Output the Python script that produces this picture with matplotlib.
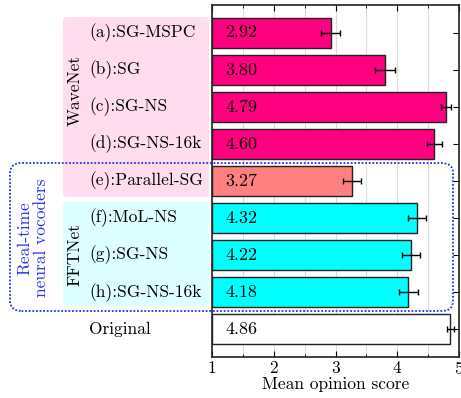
import matplotlib
matplotlib.use("Agg")
import matplotlib.pyplot as plt
from matplotlib.patches import FancyBboxPatch
from matplotlib.ticker import MultipleLocator

plt.rcParams['font.family'] = ['cmr10', 'DejaVu Serif']
plt.rcParams['axes.formatter.use_mathtext'] = True
plt.rcParams['font.size'] = 12

# data
labels = ["(a):SG-MSPC", "(b):SG", "(c):SG-NS", "(d):SG-NS-16k", "(e):Parallel-SG",
          "(f):MoL-NS", "(g):SG-NS", "(h):SG-NS-16k", "Original"]
mos = [2.92, 3.80, 4.79, 4.60, 3.27, 4.32, 4.22, 4.18, 4.86]
ci = [0.15, 0.16, 0.08, 0.12, 0.15, 0.15, 0.15, 0.15, 0.06]
bar_colors = ["#FF0080"] * 4 + ["#FF8080"] + ["#00FFFF"] * 3 + ["white"]

W, H = 461, 398
fig = plt.figure(figsize=(W / 100, H / 100), dpi=100)
ax = fig.add_axes([212 / W, 1 - 357 / H, (459 - 212) / W, (357 - 5) / H])

pos = list(range(len(labels)))
ax.barh(pos, [m - 1 for m in mos], left=1, height=0.8, color=bar_colors,
        edgecolor="#222222", linewidth=1.0, zorder=2)
ax.errorbar(mos, pos, xerr=ci, fmt="none", ecolor="black", elinewidth=1.0,
            capsize=2.5, capthick=1.0, zorder=3)
for p, m in zip(pos, mos):
    ax.text(1.22, p, "%.2f" % m, va="center", ha="left", fontsize=13, zorder=4)

ax.set_xlim(1, 5)
ax.set_ylim(8.75, -0.75)
ax.xaxis.set_major_locator(MultipleLocator(1))
ax.xaxis.set_minor_locator(MultipleLocator(0.5))
ax.grid(axis="x", which="both", color="#dddddd", linewidth=0.8, zorder=0)
ax.set_axisbelow(True)
ax.tick_params(axis="both", which="both", direction="in", top=True, right=True)
ax.tick_params(axis="x", which="major", length=4, labelsize=12.5, pad=2)
ax.tick_params(axis="x", which="minor", length=2.5)
ax.tick_params(axis="y", length=4)
ax.set_xlabel("Mean opinion score", fontsize=12.5, labelpad=0)
for s in ax.spines.values():
    s.set_linewidth(1.2)
    s.set_color("#222222")

ax.set_yticks(pos)
ax.set_yticklabels([])
for p, lab in zip(pos, labels):
    ax.annotate(lab, xy=(0, p), xycoords=("axes fraction", "data"),
                xytext=(-123, 0), textcoords="offset pixels",
                ha="left", va="center", fontsize=12.5)

# group backgrounds (pixel coordinates -> figure fraction)
def fbox(x0, y0, x1, y1, **kw):
    return FancyBboxPatch((x0 / W, 1 - y1 / H), (x1 - x0) / W, (y1 - y0) / H,
                          transform=fig.transFigure, **kw)

fig.patches.append(fbox(63, 17, 209, 197, boxstyle="round,pad=0,rounding_size=0.01",
                        facecolor="#FFDDEE", edgecolor="none", zorder=-1))
fig.patches.append(fbox(63, 202, 209, 306, boxstyle="round,pad=0,rounding_size=0.01",
                        facecolor="#DDFFFF", edgecolor="none", zorder=-1))
fig.patches.append(fbox(10, 163, 453, 311, boxstyle="round,pad=0,rounding_size=0.025",
                        facecolor="none", edgecolor="#2233EE", linestyle=(0, (1, 1)),
                        linewidth=1.3, zorder=5))

fig.text(75 / W, 1 - 90 / H, "WaveNet", rotation=90, ha="center", va="center", fontsize=12.5)
fig.text(75 / W, 1 - 255 / H, "FFTNet", rotation=90, ha="center", va="center", fontsize=12.5)
fig.text(33 / W, 1 - 238 / H, "Real-time\nneural vocoders", rotation=90, ha="center",
         va="center", fontsize=12.5, color="#2233EE", linespacing=1.1)

fig.savefig("out.png", dpi=100)
